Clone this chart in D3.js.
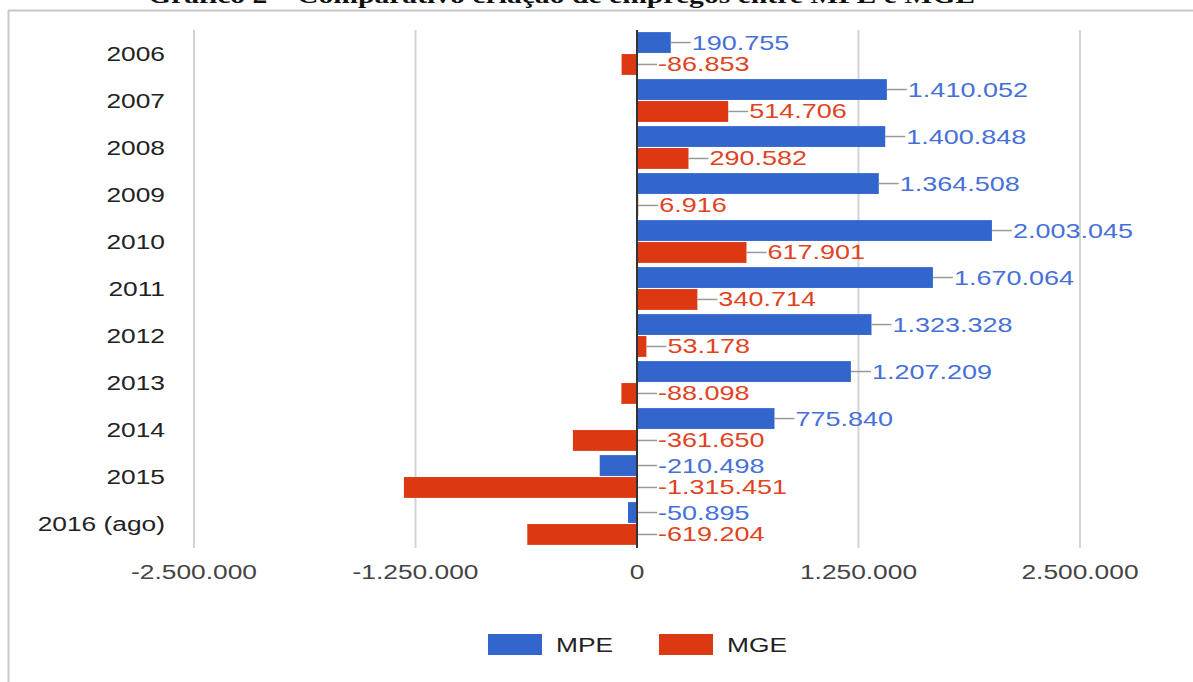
<!DOCTYPE html>
<html>
<head>
<meta charset="utf-8">
<script src="https://cdn.jsdelivr.net/npm/d3@7"></script>
<style>
  html, body { margin: 0; padding: 0; background: #fff; }
  svg { display: block; }
</style>
</head>
<body>
<svg id="chart" width="1193" height="682"></svg>
<script>
// Job creation balance per year, small firms (MPE) vs large firms (MGE)
const categories = ["2006", "2007", "2008", "2009", "2010", "2011", "2012", "2013", "2014", "2015", "2016 (ago)"];
const mpeValues = [190755, 1410052, 1400848, 1364508, 2003045, 1670064, 1323328, 1207209, 775840, -210498, -50895];
const mgeValues = [-86853, 514706, 290582, 6916, 617901, 340714, 53178, -88098, -361650, -1315451, -619204];
const seriesNames = ["MPE", "MGE"];
const tickValues = [-2500000, -1250000, 0, 1250000, 2500000];
const titleText = "Gráfico 2 – Comparativo criação de empregos entre MPE e MGE";

const colors = { MPE: "#3366cc", MGE: "#dc3912" };
const labelColors = { MPE: "#4670d8", MGE: "#e0431f" };
const stretch = 1.35; // horizontal text stretch

const locale = d3.formatLocale({ decimal: ",", thousands: ".", grouping: [3], currency: ["R$", ""], minus: "-" });
const fmt = locale.format(",d");

const svg = d3.select("#chart");

// frame
svg.append("line").attr("x1", 8).attr("x2", 1193).attr("y1", 10.5).attr("y2", 10.5)
  .attr("stroke", "#c8c8c8").attr("stroke-width", 2);
svg.append("line").attr("x1", 8.5).attr("x2", 8.5).attr("y1", 10).attr("y2", 682)
  .attr("stroke", "#c8c8c8").attr("stroke-width", 2);

// title, running off the top of the page
svg.append("text").attr("x", 148).attr("y", 2.5)
  .attr("textLength", 827).attr("lengthAdjust", "spacingAndGlyphs")
  .attr("font-family", "Liberation Serif, Times New Roman, serif")
  .attr("font-size", 24).attr("font-weight", "bold").attr("fill", "#111")
  .text(titleText);

const x = d3.scaleLinear().domain([-2500000, 2500000]).range([194, 1080]);
const y = d3.scaleBand().domain(categories).range([30, 547]).paddingInner(0.09).paddingOuter(0.045);
const ySub = d3.scaleBand().domain(seriesNames).range([0, y.bandwidth()]).paddingInner(0.05);

function stretchedText(sel, tx, ty) {
  return sel.append("text")
    .attr("transform", `translate(${tx},${ty}) scale(${stretch},1)`);
}

// gridlines
svg.append("g").selectAll("line").data(tickValues.filter(d => d !== 0)).join("line")
  .attr("x1", d => x(d)).attr("x2", d => x(d))
  .attr("y1", 30).attr("y2", 548)
  .attr("stroke", "#d4d4d4").attr("stroke-width", 2);

// x tick labels
const xLab = svg.append("g").attr("font-family", "Liberation Sans, Arial, sans-serif")
  .attr("font-size", 19.5).attr("fill", "#444");
tickValues.forEach(t => {
  stretchedText(xLab, x(t), 579).attr("text-anchor", "middle").text(fmt(t));
});

// category labels
const yLab = svg.append("g").attr("font-family", "Liberation Sans, Arial, sans-serif")
  .attr("font-size", 19.5).attr("fill", "#222");
categories.forEach(c => {
  stretchedText(yLab, 165, y(c) + y.bandwidth() / 2 + 7).attr("text-anchor", "end").text(c);
});

// bars with value annotations
const rows = categories.map((c, i) => ({ cat: c, MPE: mpeValues[i], MGE: mgeValues[i] }));
const barG = svg.append("g");
const labelG = svg.append("g").attr("font-family", "Liberation Sans, Arial, sans-serif").attr("font-size", 20);

rows.forEach(r => {
  seriesNames.forEach(s => {
    const v = r[s];
    const y0 = y(r.cat) + ySub(s);
    const h = ySub.bandwidth();
    barG.append("rect")
      .attr("x", Math.min(x(0), x(v)))
      .attr("y", y0)
      .attr("width", Math.abs(x(v) - x(0)))
      .attr("height", h)
      .attr("fill", colors[s]);
    const start = Math.max(x(0), x(v));
    const cy = y0 + h / 2;
    labelG.append("line")
      .attr("x1", start).attr("x2", start + 20)
      .attr("y1", cy).attr("y2", cy)
      .attr("stroke", "#9a9a9a").attr("stroke-width", 1.5);
    stretchedText(labelG, start + 21, cy + 7).attr("fill", labelColors[s]).text(fmt(v));
  });
});

// zero baseline
svg.append("line").attr("x1", x(0)).attr("x2", x(0)).attr("y1", 30).attr("y2", 548)
  .attr("stroke", "#333").attr("stroke-width", 2);

// legend
const legend = svg.append("g").attr("font-family", "Liberation Sans, Arial, sans-serif")
  .attr("font-size", 19.5).attr("fill", "#222");
const legendX = { MPE: 488, MGE: 659 };
seriesNames.forEach(s => {
  legend.append("rect").attr("x", legendX[s]).attr("y", 634).attr("width", 54).attr("height", 21)
    .attr("fill", colors[s]);
  stretchedText(legend, legendX[s] + 68, 652).text(s);
});
</script>
</body>
</html>
